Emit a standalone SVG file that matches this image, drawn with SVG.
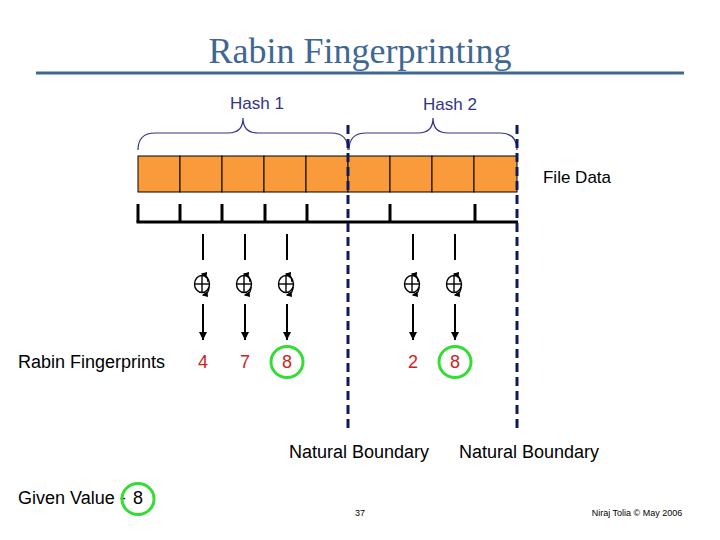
<svg xmlns="http://www.w3.org/2000/svg" width="720" height="540" viewBox="0 0 720 540">
<defs>
<style>
.t{font-family:"Liberation Sans",Arial,sans-serif;font-size:18px;fill:#000}
.hash{font-family:"Liberation Sans",Arial,sans-serif;font-size:17px;fill:#333388}
.num{font-family:"Liberation Sans",Arial,sans-serif;font-size:18px;fill:#cc2222;text-anchor:middle}
.small{font-family:"Liberation Sans",Arial,sans-serif;font-size:9px;fill:#000}
.cell{fill:#F99B3A;stroke:#000;stroke-width:1}
.brace{fill:none;stroke:#333388;stroke-width:1.2}
.dash{stroke:#0f1a5c;stroke-width:3;stroke-dasharray:9 5}
.tick{stroke:#000;stroke-width:3}
.ln{stroke:#000;stroke-width:2}
.ring{fill:none;stroke:#33dd33;stroke-width:3}
.sym{fill:none;stroke:#000;stroke-width:1.4}
</style>
<marker id="ah" viewBox="0 0 10 10" refX="10" refY="5" markerWidth="4" markerHeight="4" orient="auto" markerUnits="strokeWidth">
<path d="M0,0 L10,5 L0,10 z" fill="#000"/>
</marker>
<marker id="sa" viewBox="0 0 10 10" refX="8" refY="5" markerWidth="6" markerHeight="6" orient="auto" markerUnits="userSpaceOnUse">
<path d="M0,0 L10,5 L0,10 z" fill="#000"/>
</marker>
<g id="xor">
<ellipse cx="0" cy="0" rx="7.5" ry="8.5" class="sym"/>
<line x1="-7.5" y1="0" x2="7.5" y2="0" class="sym"/>
<line x1="0" y1="-8.5" x2="0" y2="8.5" class="sym"/>
<path d="M6,-2 Q6,-9 0,-10" class="sym" marker-end="url(#sa)"/>
<path d="M7,3 Q7,10 1,11" class="sym" marker-end="url(#sa)"/>
</g>
</defs>
<rect width="720" height="540" fill="#fff"/>

<g id="title">
<text x="360" y="63" text-anchor="middle" style="font-family:'Liberation Serif','Times New Roman',serif;font-size:36px;fill:#3F6794">Rabin Fingerprinting</text>
<line x1="36" y1="73" x2="684" y2="73" stroke="#3F6794" stroke-width="3"/>
</g>

<g id="hash1">
<path class="brace" d="M138,150 Q138,133 155,133 L228,133 Q243,133 243,118 Q243,133 258,133 L331,133 Q348,133 348,150"/>
<text class="hash" x="257" y="109" text-anchor="middle">Hash 1</text>
</g>
<g id="hash2">
<path class="brace" d="M349,150 Q349,133 366,133 L418,133 Q433,133 433,118 Q433,133 448,133 L500,133 Q517,133 517,150"/>
<text class="hash" x="450" y="110" text-anchor="middle">Hash 2</text>
</g>

<g id="filedata">
<rect class="cell" x="138" y="156" width="42" height="36"/>
<rect class="cell" x="180" y="156" width="42" height="36"/>
<rect class="cell" x="222" y="156" width="42" height="36"/>
<rect class="cell" x="264" y="156" width="42" height="36"/>
<rect class="cell" x="306" y="156" width="42" height="36"/>
<rect class="cell" x="348" y="156" width="42" height="36"/>
<rect class="cell" x="390" y="156" width="42" height="36"/>
<rect class="cell" x="432" y="156" width="42" height="36"/>
<rect class="cell" x="474" y="156" width="43" height="36"/>
<text class="t" x="577" y="183" text-anchor="middle" style="font-size:17px">File Data</text>
</g>

<g id="comb">
<line class="tick" x1="136.5" y1="222" x2="518" y2="222"/>
<line class="tick" x1="138" y1="204" x2="138" y2="222"/>
<line class="tick" x1="180" y1="204" x2="180" y2="222"/>
<line class="tick" x1="222" y1="204" x2="222" y2="222"/>
<line class="tick" x1="265" y1="204" x2="265" y2="222"/>
<line class="tick" x1="307" y1="204" x2="307" y2="222"/>
<line class="tick" x1="390" y1="204" x2="390" y2="222"/>
<line class="tick" x1="475" y1="204" x2="475" y2="222"/>
</g>

<g id="connectors">
<line class="ln" x1="203" y1="234" x2="203" y2="260"/>
<line class="ln" x1="245" y1="234" x2="245" y2="260"/>
<line class="ln" x1="287" y1="234" x2="287" y2="260"/>
<line class="ln" x1="413" y1="234" x2="413" y2="260"/>
<line class="ln" x1="455" y1="234" x2="455" y2="260"/>
<line class="ln" x1="203" y1="304" x2="203" y2="340" marker-end="url(#ah)"/>
<line class="ln" x1="245" y1="304" x2="245" y2="340" marker-end="url(#ah)"/>
<line class="ln" x1="287" y1="304" x2="287" y2="340" marker-end="url(#ah)"/>
<line class="ln" x1="413" y1="304" x2="413" y2="340" marker-end="url(#ah)"/>
<line class="ln" x1="455" y1="304" x2="455" y2="340" marker-end="url(#ah)"/>
</g>

<g id="ops">
<use href="#xor" x="202" y="284"/>
<use href="#xor" x="244" y="284"/>
<use href="#xor" x="286" y="284"/>
<use href="#xor" x="412" y="284"/>
<use href="#xor" x="454" y="284"/>
</g>

<g id="fingerprints">
<text class="t" x="18" y="368">Rabin Fingerprints</text>
<text class="num" x="203" y="368">4</text>
<text class="num" x="245" y="368">7</text>
<text class="num" x="287" y="368">8</text>
<ellipse class="ring" cx="287" cy="362" rx="16" ry="15.5"/>
<text class="num" x="413" y="368">2</text>
<text class="num" x="455" y="368">8</text>
<ellipse class="ring" cx="455" cy="362" rx="16" ry="15.5"/>
</g>

<g id="boundaries">
<line class="dash" x1="348" y1="125" x2="348" y2="432"/>
<line class="dash" x1="517" y1="125" x2="517" y2="432"/>
<text class="t" x="359" y="458" text-anchor="middle">Natural Boundary</text>
<text class="t" x="529" y="458" text-anchor="middle">Natural Boundary</text>
</g>

<g id="given">
<text class="t" x="18" y="504">Given Value - <tspan x="138" text-anchor="middle">8</tspan></text>
<ellipse class="ring" cx="138" cy="499" rx="16" ry="15.5"/>
</g>

<g id="footer">
<text class="small" x="360" y="516" text-anchor="middle">37</text>
<text class="small" x="637" y="516" text-anchor="middle">Niraj Tolia © May 2006</text>
</g>
</svg>
